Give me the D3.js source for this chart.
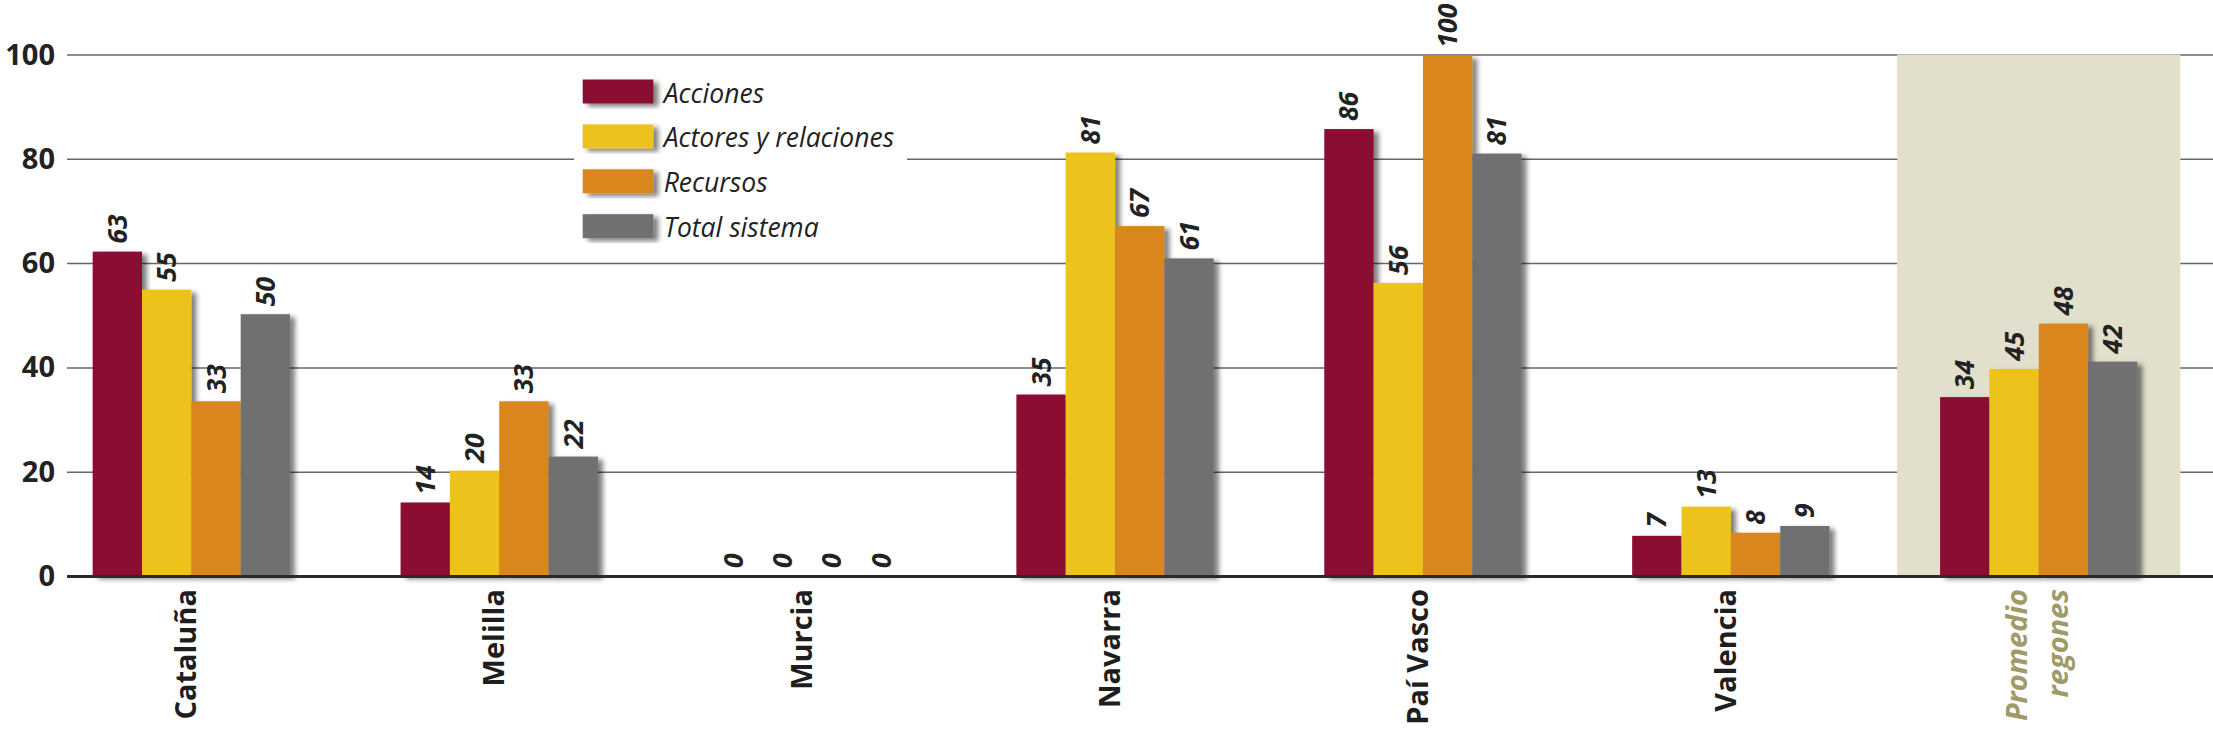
<!DOCTYPE html>
<html><head><meta charset="utf-8">
<script src="https://cdn.jsdelivr.net/npm/d3@7"></script>
<style>html,body{margin:0;padding:0;background:#fff;} svg{display:block;}</style>
</head><body>
<script>
// ---- data ----
const categories = ["Cataluña", "Melilla", "Murcia", "Navarra", "Paí Vasco", "Valencia", "Promedio regones"];
const seriesNames = ["Acciones", "Actores y relaciones", "Recursos", "Total sistema"];
const seriesColors = ["#8b1131", "#eec21b", "#d9861d", "#707070"];
// bar heights as drawn
const acciones = [62.2, 14.1, 0, 34.8, 85.7, 7.7, 34.3];
const actores  = [54.9, 20.2, 0, 81.2, 56.2, 13.3, 39.7];
const recursos = [33.5, 33.5, 0, 67.1, 99.8, 8.3, 48.4];
const total    = [50.2, 22.9, 0, 60.9, 81.0, 9.6, 41.1];
// printed value labels
const accionesLabels = [63, 14, 0, 35, 86, 7, 34];
const actoresLabels  = [55, 20, 0, 81, 56, 13, 45];
const recursosLabels = [33, 33, 0, 67, 100, 8, 48];
const totalLabels    = [50, 22, 0, 61, 81, 9, 42];
const yTicks = [0, 20, 40, 60, 80, 100];
const highlightLines = ["Promedio", "regones"];

const seriesValues = [acciones, actores, recursos, total];
const seriesLabels = [accionesLabels, actoresLabels, recursosLabels, totalLabels];

// ---- layout ----
const W = 2213, H = 738;
const FONT = "'Open Sans', 'DejaVu Sans', sans-serif";
const svg = d3.select("body").append("svg").attr("width", W).attr("height", H);

const defs = svg.append("defs");
const f = defs.append("filter").attr("id", "sh")
  .attr("x", "-30%").attr("y", "-10%").attr("width", "160%").attr("height", "130%");
f.append("feDropShadow").attr("dx", 5).attr("dy", 3).attr("stdDeviation", 2.5)
  .attr("flood-color", "#000").attr("flood-opacity", 0.5);

const y = d3.scaleLinear().domain([0, 100]).range([576, 54.5]);
const x = d3.scaleBand().domain(categories).range([37.4, 2192.7])
  .paddingInner(0.359).paddingOuter(0.1795);
const xs = d3.scaleBand().domain(seriesNames).range([0, x.bandwidth()]);

// gridlines + tick labels
const axisX0 = 67;
const ax = svg.append("g").attr("transform", `translate(${axisX0},0)`)
  .call(d3.axisLeft(y).tickValues(yTicks).tickSize(-(W - axisX0)).tickPadding(12).tickFormat(d3.format("d")));
ax.select(".domain").remove();
ax.selectAll(".tick line").attr("stroke", "#666").attr("stroke-width", 1.5);
ax.selectAll(".tick text").attr("font-family", FONT).attr("font-weight", 700)
  .attr("font-size", 29).attr("fill", "#222").attr("dy", "0.33em");

// highlight box for last category
const last = categories[categories.length - 1];
const boxC = x(last) + x.bandwidth() / 2;
const boxHalf = x.step() * 0.46;
svg.append("rect").attr("x", boxC - boxHalf).attr("y", y(100))
  .attr("width", boxHalf * 2).attr("height", y(0) - y(100)).attr("fill", "#e2dfcd");

// legend background
svg.append("rect").attr("x", 574).attr("y", 64).attr("width", 333).attr("height", 186).attr("fill", "#fff");

// bars
const groups = svg.append("g").selectAll("g").data(categories).join("g")
  .attr("transform", d => `translate(${x(d)},0)`);
seriesNames.forEach((s, si) => {
  groups.append("rect")
    .attr("x", xs(s))
    .attr("y", (d, ci) => y(seriesValues[si][ci]))
    .attr("width", xs.bandwidth())
    .attr("height", (d, ci) => y(0) - y(seriesValues[si][ci]))
    .attr("fill", seriesColors[si])
    .attr("filter", "url(#sh)");
});

// baseline
svg.append("line").attr("x1", axisX0).attr("x2", W).attr("y1", y(0) + 0.5).attr("y2", y(0) + 0.5)
  .attr("stroke", "#2a2a2a").attr("stroke-width", 3);

// value labels
seriesNames.forEach((s, si) => {
  groups.append("text")
    .attr("transform", (d, ci) => `translate(${xs(s) + xs.bandwidth() / 2 + 9.5},${y(seriesValues[si][ci]) - 8}) rotate(-90)`)
    .attr("font-family", FONT).attr("font-weight", 700).attr("font-style", "italic")
    .attr("font-size", 26.5).attr("fill", "#222")
    .text((d, ci) => seriesLabels[si][ci]);
});

// category labels
categories.forEach((c, ci) => {
  const cx = x(c) + x.bandwidth() / 2;
  if (ci === categories.length - 1) {
    const offs = [-12, 29.5];
    highlightLines.forEach((line, li) => {
      svg.append("text")
        .attr("transform", `translate(${cx + offs[li]},589) rotate(-90)`)
        .attr("text-anchor", "end")
        .attr("font-family", FONT).attr("font-weight", 700).attr("font-style", "italic")
        .attr("font-size", 29).attr("fill", "#a09a69")
        .text(line);
    });
  } else {
    svg.append("text")
      .attr("transform", `translate(${cx + 5},589) rotate(-90)`)
      .attr("text-anchor", "end")
      .attr("font-family", FONT).attr("font-weight", 700)
      .attr("font-size", 29).attr("fill", "#1e1e1e")
      .text(c);
  }
});

// legend
const ly = d3.scalePoint().domain(seriesNames).range([79.5, 79.5 + 3 * 44.9]);
const lg = svg.append("g").selectAll("g").data(seriesNames).join("g")
  .attr("transform", d => `translate(582.7,${ly(d)})`);
lg.append("rect").attr("width", 70.6).attr("height", 24)
  .attr("fill", (d, i) => seriesColors[i]).attr("filter", "url(#sh)");
lg.append("text").attr("x", 81).attr("y", 23)
  .attr("font-family", FONT).attr("font-style", "italic").attr("font-size", 26.5).attr("fill", "#222")
  .text(d => d);
</script>
</body></html>
